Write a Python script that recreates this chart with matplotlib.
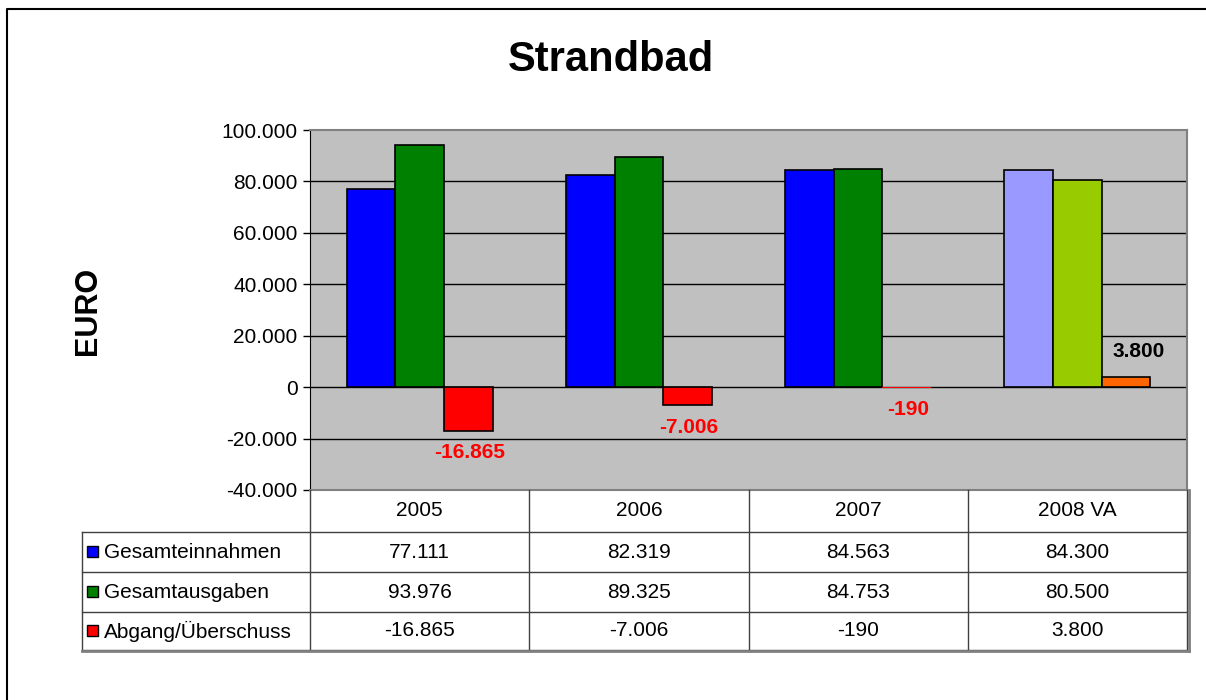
import matplotlib
matplotlib.use("Agg")
import matplotlib.pyplot as plt
import numpy as np
from matplotlib.patches import Rectangle

plt.rcParams['font.family'] = ['Liberation Sans', 'DejaVu Sans']

# data
years = ['2005', '2006', '2007', '2008 VA']
series_names = ['Gesamteinnahmen', 'Gesamtausgaben', 'Abgang/Überschuss']
einnahmen = [77111, 82319, 84563, 84300]
ausgaben = [93976, 89325, 84753, 80500]
saldo = [-16865, -7006, -190, 3800]
yticks = [-40000, -20000, 0, 20000, 40000, 60000, 80000, 100000]

colors = ['#0000FF', '#008000', '#FF0000']
colors_2008 = ['#9999FF', '#99CC00', '#FF6600']


def fmt(v):
    return f"{v:,}".replace(",", ".")


W, H = 1206, 700
fig = plt.figure(figsize=(W / 100, H / 100), dpi=100)

# plot area in pixel coords
px0, px1, py0, py1 = 310, 1187, 130, 490
ax = fig.add_axes([px0 / W, 1 - py1 / H, (px1 - px0) / W, (py1 - py0) / H])
ax.set_facecolor('#C0C0C0')
ax.set_xlim(-0.5, len(years) - 0.5)
ax.set_ylim(-40000, 100000)
ax.set_yticks(yticks)
ax.set_yticklabels([fmt(t) for t in yticks], fontsize=15)
ax.set_xticks([])
ax.tick_params(axis='y', length=5, width=1, pad=4)
for s in ['top', 'right', 'bottom']:
    ax.spines[s].set_color('#808080')
    ax.spines[s].set_linewidth(1.5)
ax.spines['left'].set_color('black')
for t in yticks[1:-1]:
    ax.axhline(t, color='black', lw=1, zorder=1)

bw = 1 / 4.5
data = [einnahmen, ausgaben, saldo]
x = np.arange(len(years))
for i, vals in enumerate(data):
    cols = [colors[i]] * 3 + [colors_2008[i]]
    # very small values are not visible in the original
    lws = [1.2 if abs(v) > 1000 else 0 for v in vals]
    ax.bar(x + (i - 1) * bw, vals, bw, color=cols, edgecolor='black',
           linewidth=lws, zorder=3)

for xi, v in zip(x, saldo):
    if v < 0:
        ax.annotate(fmt(v), (xi + bw, v), xytext=(1, -9), textcoords='offset points',
                    ha='center', va='top', color='#FF0000', fontsize=15,
                    fontweight='bold')
    else:
        ax.annotate(fmt(v), (xi + bw, v), xytext=(9, 12), textcoords='offset points',
                    ha='center', va='bottom', color='black', fontsize=15,
                    fontweight='bold')

# overlay for border
ov = fig.add_axes([0, 0, 1, 1], zorder=-1)
ov.set_xlim(0, W)
ov.set_ylim(H, 0)
ov.axis('off')
ov.plot([7, 7, W], [H, 9, 9], color='black', lw=1.5)

fig.text(611 / W, 1 - 60 / H, 'Strandbad', ha='center', va='center',
         fontsize=30, fontweight='bold')
fig.text(88 / W, 1 - 311 / H, 'EURO', ha='center', va='center', rotation=90,
         fontsize=22, fontweight='bold')

# data table
tab = fig.add_axes([0, 0, 1, 1])
tab.set_xlim(0, W)
tab.set_ylim(H, 0)
tab.axis('off')
col_edges = np.linspace(px0, px1, len(years) + 1)
row_edges = [490, 532, 572, 612, 650]
lc = '#404040'
for xe in col_edges:
    tab.plot([xe, xe], [row_edges[0], row_edges[-1]], color=lc, lw=1)
tab.plot([82, 82], [row_edges[1], row_edges[-1]], color=lc, lw=1)
for ye in row_edges[1:]:
    tab.plot([82, px1], [ye, ye], color=lc, lw=1)
tab.plot([82, px1 + 2], [row_edges[-1] + 1, row_edges[-1] + 1], color='#808080', lw=2)
tab.plot([px1 + 1.5, px1 + 1.5], [row_edges[0], row_edges[-1] + 1], color='#808080', lw=2)

for j, yr in enumerate(years):
    cx = (col_edges[j] + col_edges[j + 1]) / 2
    tab.text(cx, (row_edges[0] + row_edges[1]) / 2, yr, ha='center', va='center',
             fontsize=15)
for i, (name, vals) in enumerate(zip(series_names, data)):
    cy = (row_edges[i + 1] + row_edges[i + 2]) / 2
    tab.add_patch(Rectangle((87, cy - 6), 11, 11, facecolor=colors[i],
                            edgecolor='black', lw=1))
    tab.text(104, cy, name, ha='left', va='center', fontsize=15)
    for j, v in enumerate(vals):
        cx = (col_edges[j] + col_edges[j + 1]) / 2
        tab.text(cx, cy, fmt(v), ha='center', va='center', fontsize=15)

fig.savefig('out.png', dpi=100)
